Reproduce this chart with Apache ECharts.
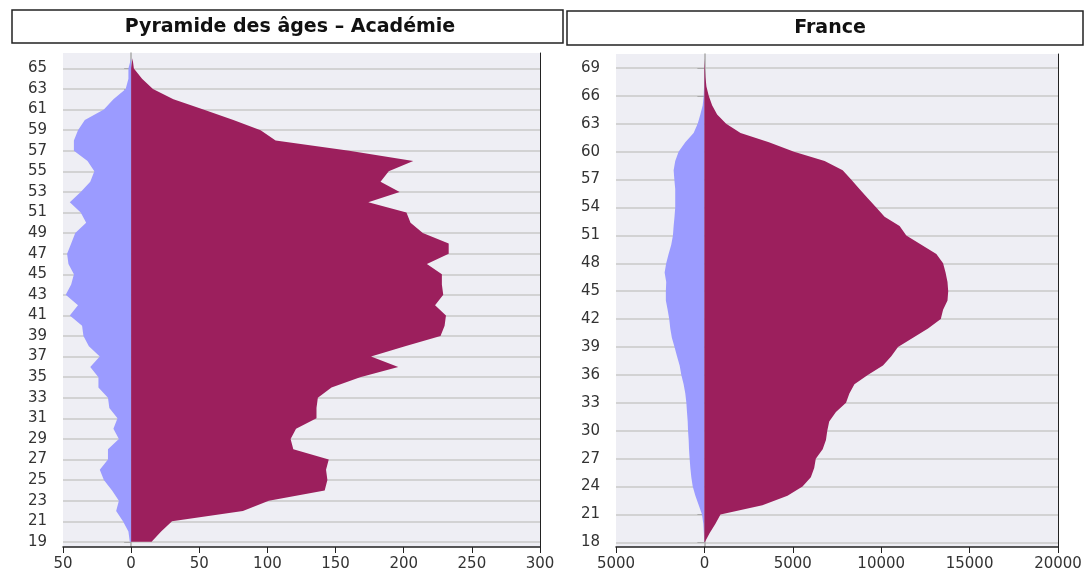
<!DOCTYPE html>
<html>
<head>
<meta charset="utf-8">
<script src="https://cdn.jsdelivr.net/npm/echarts@6/dist/echarts.min.js"></script>
<style>
  html, body { margin: 0; padding: 0; background: #fff; }
  #chart { width: 1085px; height: 573px; }
</style>
</head>
<body>
<div id="chart"></div>
<script>
// Académie : âges 19 à 66
const agesAcad = [19, 20, 21, 22, 23, 24, 25, 26, 27, 28, 29, 30, 31, 32, 33, 34, 35, 36, 37, 38, 39, 40,
  41, 42, 43, 44, 45, 46, 47, 48, 49, 50, 51, 52, 53, 54, 55, 56, 57, 58, 59, 60, 61, 62, 63, 64, 65, 66]
const acadBleu = [1, 2, 6, 11, 9, 14, 20, 23, 17, 17, 9, 13, 10, 16, 17, 24, 24, 30, 23, 31, 35, 36,
  45, 39, 48, 44, 42, 46, 47, 44, 41, 33, 37, 45, 37, 30, 27, 32, 42, 42, 39, 34, 20, 13, 4, 2, 2, 0]
const acadViolet = [15, 22, 30, 82, 101, 142, 144, 143, 145, 119, 117, 121, 136, 136, 137, 147, 168, 196, 176, 201, 227, 230,
  231, 223, 229, 228, 228, 217, 233, 233, 214, 205, 202, 174, 197, 183, 189, 207, 160, 106, 95, 75, 53, 31, 16, 8, 2, 1]
const acadTicks = [-50, 0, 50, 100, 150, 200, 250, 300]

// France : âges 18 à 70
const agesFrance = [18, 19, 20, 21, 22, 23, 24, 25, 26, 27, 28, 29, 30, 31, 32, 33, 34, 35, 36, 37, 38, 39, 40, 41, 42, 43, 44,
  45, 46, 47, 48, 49, 50, 51, 52, 53, 54, 55, 56, 57, 58, 59, 60, 61, 62, 63, 64, 65, 66, 67, 68, 69, 70]
const franceBleu = [10, 30, 60, 135, 320, 510, 660, 740, 795, 835, 870, 890, 925, 945, 985, 1020, 1080, 1175, 1305, 1400, 1550, 1690, 1840, 1930, 1990, 2080, 2180,
  2180, 2160, 2250, 2160, 2025, 1875, 1780, 1740, 1690, 1650, 1650, 1650, 1700, 1740, 1650, 1460, 1080, 610, 380, 230, 95, 40, 20, 10, 5, 0]
const franceViolet = [20, 300, 625, 910, 3280, 4700, 5550, 6020, 6210, 6300, 6690, 6875, 6950, 7060, 7440, 8010, 8200, 8485, 9240, 10100, 10570, 10950, 11800, 12650, 13370, 13500, 13750,
  13790, 13750, 13640, 13500, 13120, 12270, 11420, 11040, 10190, 9720, 9240, 8770, 8300, 7820, 6800, 5070, 3650, 2045, 1230, 720, 435, 245, 115, 60, 30, 10]
const franceTicks = [-5000, 0, 5000, 10000, 15000, 20000]

const BLEU = '#9b9bff'
const VIOLET = '#9c1f5d'
const FONT = 'DejaVu Sans'

function valueAxis(gridIndex, ticks) {
  return {
    type: 'value',
    gridIndex: gridIndex,
    min: ticks[0],
    max: ticks[ticks.length - 1],
    interval: ticks[1] - ticks[0],
    axisLine: { show: true, onZero: false, lineStyle: { color: '#222', width: 1.5 } },
    axisTick: { show: true, length: 6, lineStyle: { color: '#222' } },
    axisLabel: {
      color: '#333', fontSize: 15, fontFamily: FONT, margin: 10,
      formatter: v => String(Math.abs(v))
    },
    splitLine: { show: false }
  }
}

function ageAxis(gridIndex, ages, step) {
  const keep = (idx) => idx % step === 0
  return {
    type: 'category',
    gridIndex: gridIndex,
    data: ages,
    boundaryGap: true,
    axisLine: { show: true, lineStyle: { color: '#aaa', width: 1.5 } },
    axisTick: { show: true, interval: keep, alignWithLabel: true, length: 7, lineStyle: { color: '#aaa' } },
    axisLabel: { interval: keep, color: '#333', fontSize: 15, fontFamily: FONT, margin: 16 },
    splitLine: { show: true, interval: keep, alignWithLabel: true, lineStyle: { color: '#c8c8c8', width: 1.5 } }
  }
}

// ligne du zéro (foncée, visible seulement là où les aires sont nulles)
function zeroAxis(gridIndex, ages) {
  return {
    type: 'category',
    gridIndex: gridIndex,
    data: ages,
    boundaryGap: true,
    axisLine: { show: true, onZero: true, lineStyle: { color: '#222', width: 1 } },
    axisTick: { show: false },
    axisLabel: { show: false },
    splitLine: { show: false }
  }
}

function aire(name, data, color, idx) {
  return {
    name: name,
    type: 'line',
    xAxisIndex: idx,
    yAxisIndex: idx * 2,
    data: data,
    symbol: 'none',
    lineStyle: { width: 0 },
    areaStyle: { color: color, opacity: 1 },
    silent: true
  }
}

const chart = echarts.init(document.getElementById('chart'), null, { renderer: 'canvas' })
chart.setOption({
  animation: false,
  grid: [
    { left: 63, right: 545, top: 53, bottom: 26, show: true, backgroundColor: '#eeeef4', borderWidth: 0 },
    { left: 616, right: 27, top: 54, bottom: 26, show: true, backgroundColor: '#eeeef4', borderWidth: 0 }
  ],
  graphic: [
    { type: 'rect', shape: { x: 12, y: 10, width: 551, height: 33 }, style: { fill: '#fff', stroke: '#222', lineWidth: 1.5 } },
    { type: 'text', x: 290, y: 27, style: { text: 'Pyramide des âges – Académie', font: 'bold 19px "DejaVu Sans"', fill: '#111', align: 'center', verticalAlign: 'middle' } },
    { type: 'rect', shape: { x: 567, y: 11, width: 516, height: 34 }, style: { fill: '#fff', stroke: '#222', lineWidth: 1.5 } },
    { type: 'text', x: 830, y: 28, style: { text: 'France', font: 'bold 19px "DejaVu Sans"', fill: '#111', align: 'center', verticalAlign: 'middle' } }
  ],
  xAxis: [valueAxis(0, acadTicks), valueAxis(1, franceTicks)],
  yAxis: [ageAxis(0, agesAcad, 2), zeroAxis(0, agesAcad), ageAxis(1, agesFrance, 3), zeroAxis(1, agesFrance)],
  series: [
    aire('Hommes', acadBleu.map(v => -v), BLEU, 0),
    aire('Femmes', acadViolet, VIOLET, 0),
    aire('Hommes', franceBleu.map(v => -v), BLEU, 1),
    aire('Femmes', franceViolet, VIOLET, 1)
  ]
})
</script>
</body>
</html>
